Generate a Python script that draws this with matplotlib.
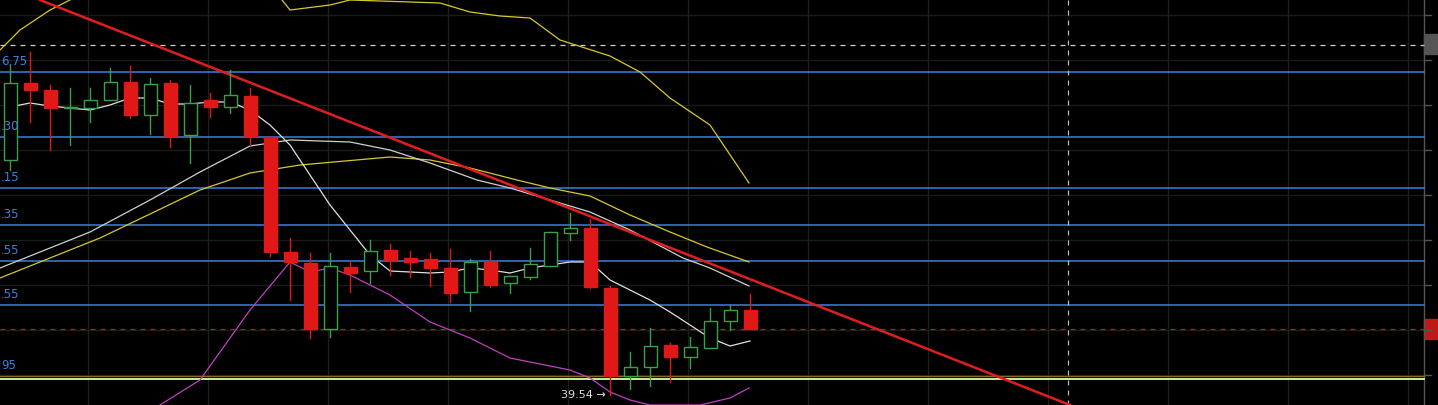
import matplotlib.pyplot as plt
from matplotlib.patches import Rectangle

# candle data in chart units (screen-like scale, larger = lower price)
cx = [10 + 20 * i for i in range(38)]
opens = [160, 83, 90, 108, 108, 100, 82, 115, 83, 135, 100, 107, 96, 137, 252, 263, 329, 267, 271,
         250, 258, 259, 268, 292, 262, 283, 277, 266, 233, 228, 288, 376, 367, 345, 357, 348, 321, 310]
closes = [83, 90, 108, 107, 100, 82, 115, 84, 136, 103, 107, 95, 136, 252, 262, 329, 266, 273, 251,
          260, 262, 268, 293, 262, 285, 276, 264, 232, 228, 287, 376, 367, 346, 357, 347, 321, 310, 329]
highs = [65, 52, 85, 88, 88, 68, 66, 78, 80, 85, 93, 70, 88, 137, 238, 253, 253, 262, 240,
         244, 251, 253, 249, 259, 251, 276, 248, 232, 213, 219, 286, 352, 328, 343, 337, 308, 305, 294]
lows = [170, 122, 150, 145, 122, 100, 118, 134, 147, 163, 117, 113, 145, 256, 300, 338, 337, 292, 283,
        275, 277, 286, 302, 311, 287, 293, 279, 266, 240, 288, 395, 389, 386, 382, 368, 348, 330, 329]

ma_fast = [107, 103, 106, 108, 110, 105, 98, 98, 104, 104, 102, 102, 110, 125, 145, 175, 205, 230, 255,
           271, 272, 273, 272, 268, 270, 273, 268, 265, 262, 262, 280, 290, 300, 312, 325, 338, 346, 341]
ma_mid_x = [0, 90, 150, 200, 250, 290, 350, 390, 430, 477, 510, 550, 590, 630, 683, 710, 749]
ma_mid_y = [268, 232, 200, 172, 146, 140, 142, 150, 163, 180, 188, 200, 212, 230, 258, 268, 286]
ma_slow_x = [0, 100, 200, 250, 300, 390, 430, 470, 517, 550, 590, 630, 670, 707, 749]
ma_slow_y = [278, 238, 190, 173, 165, 157, 160, 168, 180, 188, 196, 215, 232, 247, 262]
band_up_x = [0, 20, 50, 70, 90, 270, 290, 330, 350, 440, 470, 500, 530, 560, 610, 640, 670, 710, 749]
band_up_y = [50, 30, 10, 0, -15, -15, 10, 5, 0, 3, 12, 16, 18, 40, 56, 72, 98, 125, 183]
band_lo_x = [160, 200, 250, 290, 310, 330, 350, 390, 430, 470, 510, 550, 570, 590, 610, 630, 650, 700, 730, 749]
band_lo_y = [405, 380, 310, 262, 272, 268, 275, 295, 322, 338, 358, 366, 370, 378, 392, 400, 405, 405, 398, 388]

levels = [72, 137, 188, 225, 261, 305]
level_labels = ["6.75", ".30", ".15", ".35", ".55", ".55"]

fig = plt.figure(figsize=(14.38, 4.05), dpi=100)
fig.patch.set_facecolor("#000000")
ax = fig.add_axes([0, 0, 1, 1])
ax.set_facecolor("#030303")
ax.set_xlim(0, 1438)
ax.set_ylim(405, 0)
ax.axis("off")

for gx in range(88, 1424, 120):
    ax.axvline(gx, color="#1e1e1e", lw=1)
for gy in range(15, 405, 45):
    ax.plot([0, 1424], [gy, gy], color="#1a1a1a", lw=1)
ax.axvline(1424, color="#555555", lw=1)
for gy in range(15, 405, 45):
    ax.plot([1424, 1431], [gy, gy], color="#555555", lw=1)

for y in levels:
    ax.plot([0, 1424], [y, y], color="#3d7fe0", lw=1.1)

ax.plot([0, 1424], [45, 45], color="#cccccc", lw=0.9, ls=(0, (4, 4)))
ax.plot([0, 1424], [329, 329], color="#b02020", lw=0.9, ls=(0, (4, 4)))
ax.plot([0, 1424], [376, 376], color="#8a6a20", lw=1)
ax.plot([0, 1424], [378.5, 378.5], color="#c8f0a0", lw=1.4)
ax.axvline(1068, color="#bbbbbb", lw=0.9, ls=(0, (4, 4)))

ax.add_patch(Rectangle((1424, 34), 14, 20, color="#555555"))
ax.add_patch(Rectangle((1424, 319), 14, 20, color="#c01818"))

ax.plot(band_up_x, band_up_y, color="#d8c830", lw=0.9)
ax.plot(band_lo_x, band_lo_y, color="#c040c0", lw=0.9)
ax.plot(ma_slow_x, ma_slow_y, color="#d8c830", lw=0.9)
ax.plot(ma_mid_x, ma_mid_y, color="#d0d0d0", lw=0.9)
ax.plot(cx, ma_fast, color="#e0e0e0", lw=0.9)

ax.plot([40, 1070], [0, 405], color="#e01e1e", lw=1.8)

for x, o, c, h, l in zip(cx, opens, closes, highs, lows):
    up = c < o
    col = "#3aa04a" if up else "#e01818"
    ax.plot([x, x], [h, l], color=col, lw=1)
    top, bot = min(o, c), max(o, c)
    face = "#030303" if up else col
    ax.add_patch(Rectangle((x - 6.5, top), 13, max(bot - top, 1), facecolor=face,
                           edgecolor=col, lw=1, zorder=3))

for y, lab in zip(levels, level_labels):
    ax.text(1, y - 4, lab, color="#3d7fe0", fontsize=8.5, va="bottom", zorder=5)
ax.text(1, 372, "95", color="#3d7fe0", fontsize=8.5, va="bottom", zorder=5)

ax.text(561, 395, "39.54 →", color="#dddddd", fontsize=8, va="center")

fig.savefig("out.png", facecolor=fig.get_facecolor())
